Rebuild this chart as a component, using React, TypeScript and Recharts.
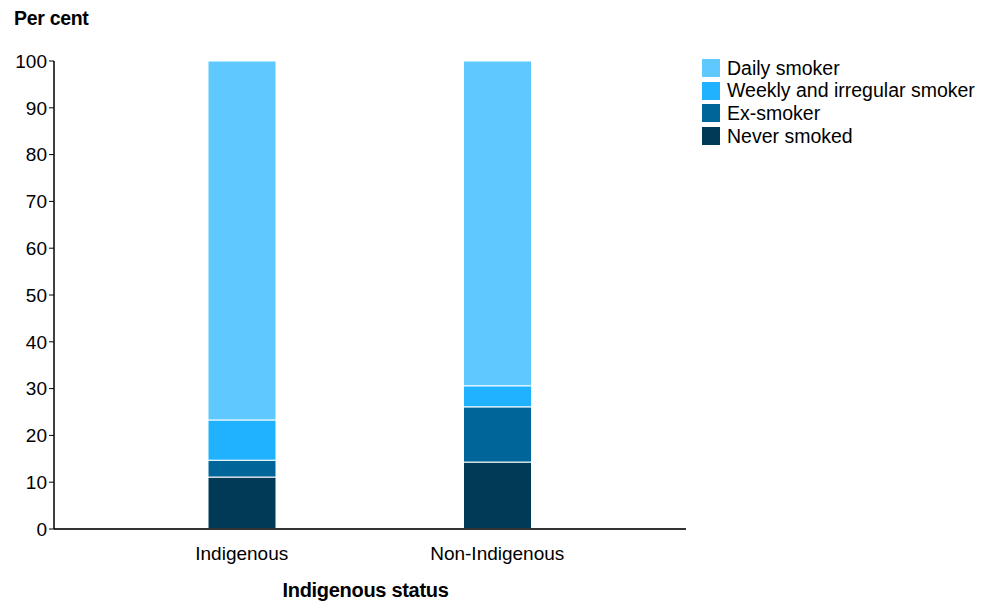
import React from "react";
import { BarChart, Bar, XAxis, YAxis } from "recharts";

const categories = ["Indigenous", "Non-Indigenous"];
const neverSmoked = [11.1, 14.3];
const exSmoker = [3.6, 11.8];
const weeklyIrregular = [8.6, 4.5];
const dailySmoker = [76.7, 69.4];
const yTicks = [0, 10, 20, 30, 40, 50, 60, 70, 80, 90, 100];

const series = [
  { key: "daily", name: "Daily smoker", color: "#5ec8ff" },
  { key: "weekly", name: "Weekly and irregular smoker", color: "#20b2ff" },
  { key: "ex", name: "Ex-smoker", color: "#006699" },
  { key: "never", name: "Never smoked", color: "#003a57" },
];

const data = categories.map((name, i) => ({
  name,
  never: neverSmoked[i],
  ex: exSmoker[i],
  weekly: weeklyIrregular[i],
  daily: dailySmoker[i],
}));

const font = "'Liberation Sans', Arial, sans-serif";

export default function App() {
  // stacking order is bottom-up, legend lists top-down
  const stack = [...series].reverse();
  return (
    <div style={{ position: "absolute", left: 0, top: 0, width: 982, height: 602, background: "#fff", fontFamily: font }}>
      <div style={{ position: "absolute", left: 14, top: 7, fontSize: 19.5, fontWeight: "bold", letterSpacing: -0.3 }}>
        Per cent
      </div>
      <BarChart
        width={982}
        height={602}
        data={data}
        margin={{ top: 61, right: 296, left: 0, bottom: 43 }}
        barSize={68}
      >
        <XAxis
          dataKey="name"
          height={30}
          padding={{ left: 60, right: 61 }}
          tickLine={false}
          axisLine={{ stroke: "#333", strokeWidth: 2 }}
          tick={{ fontSize: 19, fill: "#000", fontFamily: font }}
          dy={10}
        />
        <YAxis
          width={54}
          domain={[0, 100]}
          ticks={yTicks}
          interval={0}
          tickSize={5}
          tickLine={{ stroke: "#000" }}
          axisLine={{ stroke: "#000", strokeWidth: 1.5 }}
          tick={{ fontSize: 19, fill: "#000", fontFamily: font }}
        />
        {stack.map((s) => (
          <Bar
            key={s.key}
            dataKey={s.key}
            name={s.name}
            stackId="a"
            fill={s.color}
            stroke="#fff"
            strokeWidth={1}
            isAnimationActive={false}
          />
        ))}
      </BarChart>
      <div style={{ position: "absolute", left: 0, width: 731, top: 579, textAlign: "center", fontSize: 20, fontWeight: "bold", letterSpacing: -0.3 }}>
        Indigenous status
      </div>
      <div style={{ position: "absolute", left: 702, top: 57 }}>
        {series.map((s) => (
          <div key={s.key} style={{ display: "flex", alignItems: "center", height: 22.6 }}>
            <div style={{ width: 18, height: 18, background: s.color, marginRight: 7 }} />
            <span style={{ fontSize: 19.5, color: "#000", whiteSpace: "nowrap" }}>{s.name}</span>
          </div>
        ))}
      </div>
    </div>
  );
}
